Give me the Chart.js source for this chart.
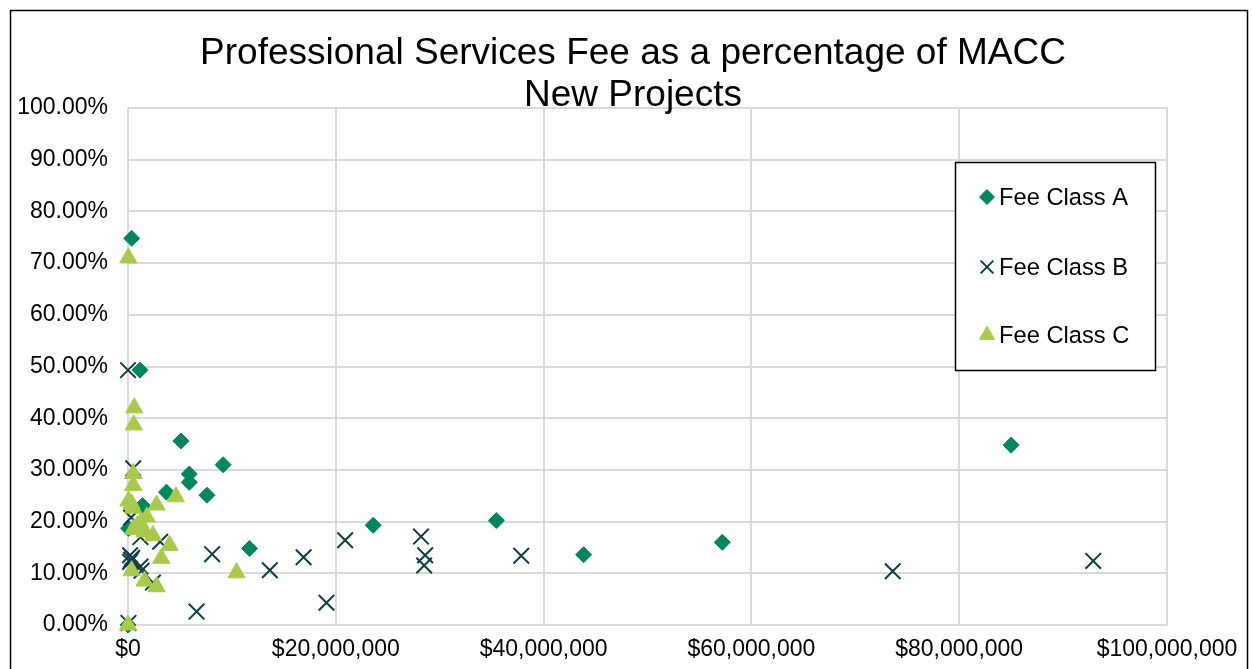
<!DOCTYPE html>
<html>
<head>
<meta charset="utf-8">
<script src="https://cdn.jsdelivr.net/npm/chart.js@4/dist/chart.umd.min.js"></script>
<style>
  html, body { margin: 0; padding: 0; background: #fff; }
  canvas { display: block; }
</style>
</head>
<body>
<canvas id="c" width="1252" height="669"></canvas>
<script>
// ---- Data (x = MACC in $, y = fee as % of MACC) ----
const titleLines = ["Professional Services Fee as a percentage of MACC", "New Projects"];
const seriesNames = ["Fee Class A", "Fee Class B", "Fee Class C"];

// Fee Class A: MACC in millions of $, fee %
const classA_macc = [0.35, 1.15, 5.1, 9.15, 5.9, 5.9, 3.7, 7.6, 11.7, 1.4, 0.05, 23.6, 35.45, 43.85, 57.2, 85.0, 0.0];
const classA_fee  = [74.8, 49.3, 35.6, 31.0, 29.2, 27.6, 25.7, 25.1, 14.8, 23.1, 18.7, 19.3, 20.2, 13.6, 16.0, 34.8, 0.0];

// Fee Class B
const classB_macc = [0.0, 0.5, 0.3, 1.2, 3.1, 0.2, 0.3, 0.4, 1.2, 2.4, 0.05, 0.2, 1.3, 8.1, 6.6, 16.9, 13.65, 19.1, 20.9, 28.2, 28.6, 28.5, 37.85, 73.6, 92.9];
const classB_fee  = [49.3, 30.3, 20.8, 17.0, 16.1, 13.5, 12.6, 13.0, 11.3, 8.2, 0.4, 12.2, 10.5, 13.7, 2.6, 13.1, 10.6, 4.3, 16.4, 17.1, 13.5, 11.5, 13.4, 10.4, 12.4];

// Fee Class C
const classC_macc = [0.03, 0.6, 0.55, 0.5, 0.5, 0.05, 0.35, 0.5, 2.75, 4.6, 1.8, 1.2, 0.5, 1.6, 2.4, 4.0, 3.2, 0.35, 1.6, 2.75, 10.45, 0.0, 0.9];
const classC_fee  = [71.0, 42.0, 38.7, 29.3, 27.0, 24.0, 23.4, 22.6, 23.2, 24.8, 20.9, 19.7, 18.5, 18.0, 17.3, 15.4, 12.9, 10.5, 8.5, 7.4, 10.1, 0.0, 19.2];

// Axis ticks
const xTickStep = 20000000, xMax = 100000000;
const yTickStep = 10, yMax = 100;

const colA = '#00855E', colB = '#0F3D45', colC = '#A9C94D';
const FONT = "'Liberation Sans', Arial, sans-serif";

function pts(m, f) { return m.map((v, i) => ({ x: v * 1e6, y: f[i] })); }

const framePlugin = {
  id: 'frame',
  beforeDraw(chart) {
    const ctx = chart.ctx;
    ctx.save();
    ctx.fillStyle = '#fff';
    ctx.fillRect(0, 0, chart.width, chart.height);
    ctx.strokeStyle = '#000';
    ctx.lineWidth = 1.5;
    ctx.strokeRect(10.5, 10.5, 1237, 700);
    ctx.restore();
  },
  afterDraw(chart) {
    const ctx = chart.ctx;
    ctx.save();
    // title
    ctx.fillStyle = '#000';
    ctx.font = '37px ' + FONT;
    ctx.textAlign = 'center';
    ctx.textBaseline = 'alphabetic';
    ctx.fillText(titleLines[0], 633, 64);
    ctx.fillText(titleLines[1], 633, 106);
    // legend
    const lx = 955, ly = 162, lw = 200, lh = 208;
    ctx.fillStyle = '#fff';
    ctx.fillRect(lx, ly, lw, lh);
    ctx.strokeStyle = '#000';
    ctx.lineWidth = 1.5;
    ctx.strokeRect(lx + 0.5, ly + 0.5, lw, lh);
    const ys = [197, 267, 335];
    chart.data.datasets.forEach((ds, i) => {
      const y = ys[i];
      ctx.fillStyle = ds.backgroundColor;
      ctx.strokeStyle = ds.borderColor;
      ctx.lineWidth = ds.pointBorderWidth;
      const r = ds.pointStyle === 'rectRot' ? 7.5 : (ds.pointStyle === 'triangle' ? 8.7 : 9);
      Chart.helpers.drawPoint(ctx, { pointStyle: ds.pointStyle, radius: r, rotation: 0, borderWidth: ds.pointBorderWidth }, 987, y);
      ctx.fillStyle = '#000';
      ctx.font = '23.7px ' + FONT;
      ctx.textAlign = 'left';
      ctx.textBaseline = 'middle';
      ctx.fillText(seriesNames[i], 999, y + 1);
    });
    ctx.restore();
  }
};

new Chart(document.getElementById('c'), {
  type: 'scatter',
  data: {
    datasets: [
      { label: seriesNames[0], data: pts(classA_macc, classA_fee), pointStyle: 'rectRot', pointRadius: 8, pointHoverRadius: 8,
        backgroundColor: colA, borderColor: colA, pointBorderWidth: 1, order: 2, clip: false },
      { label: seriesNames[1], data: pts(classB_macc, classB_fee), pointStyle: 'crossRot', pointRadius: 11, pointHoverRadius: 11,
        backgroundColor: colB, borderColor: colB, pointBorderWidth: 2, order: 1, clip: false },
      { label: seriesNames[2], data: pts(classC_macc, classC_fee), pointStyle: 'triangle', pointRadius: 10, pointHoverRadius: 10,
        backgroundColor: colC, borderColor: colC, pointBorderWidth: 1, order: 0, clip: false }
    ]
  },
  options: {
    responsive: false,
    animation: false,
    devicePixelRatio: 1,
    layout: { padding: { top: 108, right: 85, bottom: 0, left: 0 } },
    plugins: { legend: { display: false }, title: { display: false }, tooltip: { enabled: false } },
    scales: {
      x: {
        type: 'linear', min: 0, max: xMax,
        ticks: { stepSize: xTickStep, color: '#000', font: { family: FONT, size: 23 }, padding: 11,
          callback: v => '$' + Number(v).toLocaleString('en-US') },
        grid: { color: '#d9d9d9', lineWidth: 2, drawTicks: false },
        border: { display: false },
        afterFit: s => { s.height = 44; }
      },
      y: {
        type: 'linear', min: 0, max: yMax,
        ticks: { stepSize: yTickStep, color: '#000', font: { family: FONT, size: 23 }, padding: 20,
          callback: v => Number(v).toFixed(2) + '%' },
        grid: { color: '#d9d9d9', lineWidth: 2, drawTicks: false },
        border: { display: false },
        afterFit: s => { s.width = 128; }
      }
    }
  },
  plugins: [framePlugin]
});
</script>
</body>
</html>
